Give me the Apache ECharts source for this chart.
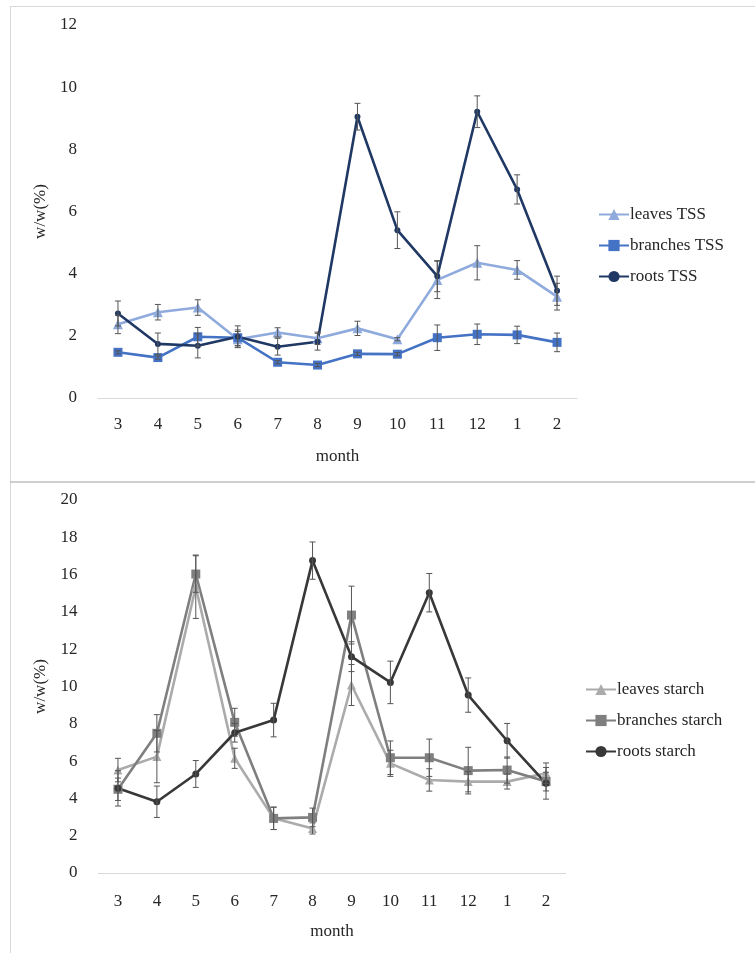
<!DOCTYPE html>
<html><head><meta charset="utf-8">
<script src="https://cdn.jsdelivr.net/npm/echarts@6/dist/echarts.min.js"></script>
<style>html,body{margin:0;padding:0;background:#fff}#c{width:755px;height:953px}</style>
</head><body><div id="c"></div>
<script>
const months = ['3','4','5','6','7','8','9','10','11','12','1','2'];
const tssYTicks = [0,2,4,6,8,10,12];
const starchYTicks = [0,2,4,6,8,10,12,14,16,18,20];

const leavesTSS   = [2.37,2.76,2.91,1.89,2.11,1.92,2.24,1.89,3.80,4.35,4.12,3.26];
const branchesTSS = [1.47,1.30,1.97,1.94,1.15,1.06,1.42,1.41,1.94,2.05,2.03,1.79];
const rootsTSS    = [2.72,1.74,1.68,1.97,1.65,1.81,9.05,5.40,3.92,9.21,6.71,3.45];
const leavesTSSErr   = [0.30,0.25,0.25,0.25,0.15,0.20,0.23,0.05,0.60,0.55,0.30,0.43];
const branchesTSSErr = [0.05,0.05,0.30,0.25,0.05,0.05,0.05,0.05,0.41,0.33,0.28,0.30];
const rootsTSSErr    = [0.40,0.35,0.39,0.35,0.27,0.27,0.43,0.59,0.50,0.51,0.47,0.47];

const leavesStarch   = [5.52,6.24,15.35,6.15,2.93,2.39,10.08,5.88,4.99,4.90,4.90,5.35];
const branchesStarch = [4.49,7.49,16.03,8.08,2.93,2.98,13.83,6.18,6.18,5.49,5.52,4.90];
const rootsStarch    = [4.54,3.82,5.31,7.52,8.20,16.75,11.60,10.22,15.03,9.54,7.09,4.81];
const leavesStarchErr   = [0.63,1.40,1.70,0.54,0.60,0.30,1.10,0.70,0.60,0.55,0.40,0.55];
const branchesStarchErr = [0.60,1.00,0.98,0.75,0.60,0.50,1.55,0.90,1.00,1.25,0.70,0.50];
const rootsStarchErr    = [0.95,0.84,0.72,0.50,0.90,1.00,0.80,1.14,1.03,0.92,0.93,0.85];

const FONT = 'Liberation Serif';
const TXT = '#262626';

function errData(vals, errs){ return vals.map((v,i)=>[i, v-errs[i], v+errs[i]]); }
function errSeries(vals, errs, xi, yi){
  return {
    type:'custom', xAxisIndex:xi, yAxisIndex:yi, z:5, silent:true,
    data: errData(vals, errs),
    renderItem: function(params, api){
      const x = api.value(0);
      const lo = api.coord([x, api.value(1)]);
      const hi = api.coord([x, api.value(2)]);
      const w = 3;
      const st = {stroke:'#555', lineWidth:1, fill:null};
      return {type:'group', children:[
        {type:'line', shape:{x1:lo[0],y1:lo[1],x2:hi[0],y2:hi[1]}, style:st},
        {type:'line', shape:{x1:lo[0]-w,y1:lo[1],x2:lo[0]+w,y2:lo[1]}, style:st},
        {type:'line', shape:{x1:hi[0]-w,y1:hi[1],x2:hi[0]+w,y2:hi[1]}, style:st}
      ]};
    }
  };
}
function lineSeries(name, vals, color, symbol, size, xi, yi){
  return {name, type:'line', data:vals, xAxisIndex:xi, yAxisIndex:yi, z:3,
    symbol, symbolSize:size, showSymbol:true,
    lineStyle:{color, width:2.6}, itemStyle:{color}};
}
function xAxis(gi, margin, gap){
  return {type:'category', data:months, gridIndex:gi, boundaryGap:true,
    axisLine:{lineStyle:{color:'#d9d9d9', width:1}}, axisTick:{show:false},
    axisLabel:{color:TXT, fontFamily:FONT, fontSize:17, margin:margin},
    name:'month', nameLocation:'middle', nameGap:gap,
    nameTextStyle:{color:TXT, fontFamily:FONT, fontSize:17}};
}
function yAxis(gi, ticks){
  return {type:'value', gridIndex:gi, min:ticks[0], max:ticks[ticks.length-1], interval:ticks[1]-ticks[0],
    axisLine:{show:false}, axisTick:{show:false}, splitLine:{show:false},
    axisLabel:{color:TXT, fontFamily:FONT, fontSize:17, margin:21},
    name:'w/w(%)', nameLocation:'middle', nameGap:49, nameRotate:90,
    nameTextStyle:{color:TXT, fontFamily:FONT, fontSize:17}};
}

const chart = echarts.init(document.getElementById('c'), null, {renderer:'canvas'});
const c1 = '#8faadc', c2 = '#4472c4', c3 = '#1f3864';
const g1 = '#ababab', g2 = '#7f7f7f', g3 = '#383838';
chart.setOption({
  animation:false,
  backgroundColor:'#fff',
  graphic:[
    {type:'line', shape:{x1:10,y1:6.5,x2:755,y2:6.5}, style:{stroke:'#d9d9d9', lineWidth:1}},
    {type:'line', shape:{x1:10.5,y1:6,x2:10.5,y2:953}, style:{stroke:'#d9d9d9', lineWidth:1}},
    {type:'line', shape:{x1:10,y1:482,x2:755,y2:482}, style:{stroke:'#bfbfbf', lineWidth:1.5}}
  ],
  grid:[
    {left:98, top:25, width:479, height:373},
    {left:98.5, top:500, width:467, height:373}
  ],
  xAxis:[xAxis(0, 18, 50), xAxis(1, 20, 50)],
  yAxis:[yAxis(0, tssYTicks), yAxis(1, starchYTicks)],
  legend:[
    {orient:'vertical', left:593, top:201, itemGap:14, itemWidth:30, itemHeight:14,
     data:['leaves TSS','branches TSS','roots TSS'],
     textStyle:{color:TXT, fontFamily:FONT, fontSize:17, padding:[0,0,0,-4]}},
    {orient:'vertical', left:580, top:676, itemGap:14, itemWidth:30, itemHeight:14,
     data:['leaves starch','branches starch','roots starch'],
     textStyle:{color:TXT, fontFamily:FONT, fontSize:17, padding:[0,0,0,-4]}}
  ],
  series:[
    lineSeries('leaves TSS', leavesTSS, c1, 'triangle', 10, 0, 0),
    lineSeries('branches TSS', branchesTSS, c2, 'rect', 9, 0, 0),
    lineSeries('roots TSS', rootsTSS, c3, 'circle', 6, 0, 0),
    errSeries(leavesTSS, leavesTSSErr, 0, 0),
    errSeries(branchesTSS, branchesTSSErr, 0, 0),
    errSeries(rootsTSS, rootsTSSErr, 0, 0),
    lineSeries('leaves starch', leavesStarch, g1, 'triangle', 9, 1, 1),
    lineSeries('branches starch', branchesStarch, g2, 'rect', 9, 1, 1),
    lineSeries('roots starch', rootsStarch, g3, 'circle', 7, 1, 1),
    errSeries(leavesStarch, leavesStarchErr, 1, 1),
    errSeries(branchesStarch, branchesStarchErr, 1, 1),
    errSeries(rootsStarch, rootsStarchErr, 1, 1)
  ]
});
</script></body></html>
